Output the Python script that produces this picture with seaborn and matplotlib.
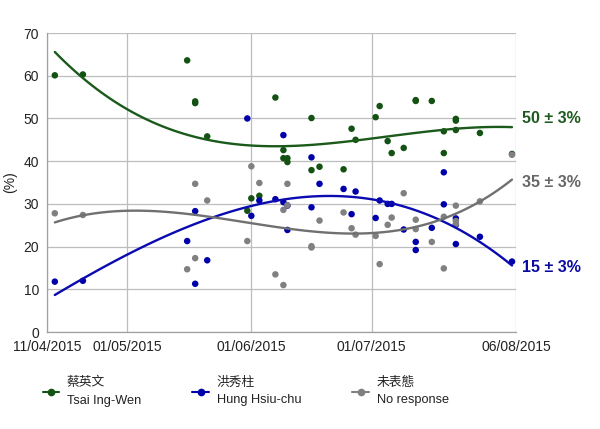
import matplotlib
matplotlib.use("Agg")
import matplotlib.pyplot as plt
import matplotlib.dates as mdates
from matplotlib.lines import Line2D
import matplotlib.transforms as mtransforms
import seaborn as sns
import pandas as pd
import numpy as np

# ---- data ----
poll_dates = ["2015-04-13", "2015-04-20", "2015-05-16", "2015-05-18", "2015-05-18",
              "2015-05-21", "2015-05-31", "2015-06-01", "2015-06-03", "2015-06-07",
              "2015-06-09", "2015-06-09", "2015-06-10", "2015-06-10", "2015-06-16",
              "2015-06-16", "2015-06-18", "2015-06-24", "2015-06-26", "2015-06-27",
              "2015-07-02", "2015-07-03", "2015-07-05", "2015-07-06", "2015-07-09",
              "2015-07-12", "2015-07-12", "2015-07-16", "2015-07-19", "2015-07-19",
              "2015-07-22", "2015-07-22", "2015-07-22", "2015-07-28", "2015-08-05"]
tsai = [60.1, 60.3, 63.6, 53.6, 54.0, 45.8, 28.4, 31.3, 31.9, 54.9,
        42.6, 40.7, 40.7, 39.8, 50.1, 37.9, 38.7, 38.1, 47.6, 45.0,
        50.3, 52.9, 44.7, 41.9, 43.1, 54.1, 54.3, 54.1, 47.0, 41.9,
        49.9, 49.5, 47.3, 46.6, 41.7]
hung = [11.8, 12.0, 21.3, 11.3, 28.3, 16.8, 50.0, 27.2, 30.8, 31.1,
        46.1, 30.4, 29.6, 23.9, 29.2, 40.9, 34.7, 33.5, 27.6, 32.9,
        26.7, 30.8, 30.0, 30.0, 24.0, 19.2, 21.1, 24.4, 37.4, 29.9,
        20.6, 25.1, 26.6, 22.3, 16.5]
none_resp = [27.8, 27.4, 14.7, 34.7, 17.3, 30.8, 21.3, 38.8, 34.9, 13.5,
             11.0, 28.6, 29.7, 34.7, 20.1, 19.8, 26.1, 28.0, 24.3, 22.8,
             22.5, 15.9, 25.1, 26.8, 32.5, 26.3, 24.1, 21.1, 14.9, 27.0,
             29.6, 25.3, 26.0, 30.6, 41.5]

series_names = ["蔡英文\nTsai Ing-Wen", "洪秀柱\nHung Hsiu-chu", "未表態\nNo response"]
end_labels = ["50 ± 3%", "15 ± 3%", "35 ± 3%"]
end_values = [50, 15, 35]
x_tick_dates = ["2015-04-11", "2015-05-01", "2015-06-01", "2015-07-01", "2015-08-06"]
x_tick_labels = ["11/04/2015", "01/05/2015", "01/06/2015", "01/07/2015", "06/08/2015"]
y_ticks = [0, 10, 20, 30, 40, 50, 60, 70]

point_colors = ["#145214", "#0000aa", "#808080"]
line_colors = ["#1a5a1a", "#0a0ab0", "#707070"]
label_colors = ["#1e5a1e", "#0a0aa0", "#666666"]

# ---- plotting ----
sns.set_theme(style="white")
plt.rcParams["font.family"] = ["Liberation Sans", "Noto Sans CJK TC", "DejaVu Sans"]

fig = plt.figure(figsize=(6.0, 4.29), dpi=100)
ax = fig.add_axes([0.078, 0.226, 0.782, 0.697])

xnum = mdates.date2num(pd.to_datetime(poll_dates))
for vals, pc, lc in zip([tsai, hung, none_resp], point_colors, line_colors):
    df = pd.DataFrame({"x": xnum, "y": vals})
    sns.regplot(data=df, x="x", y="y", order=3, ci=None, ax=ax, truncate=True,
                scatter_kws=dict(s=22, color=pc, edgecolor="none", zorder=3, alpha=1),
                line_kws=dict(color=lc, lw=1.7, zorder=4))

xt = mdates.date2num(pd.to_datetime(x_tick_dates))
ax.set_xlim(xt[0], xt[-1])
ax.set_ylim(0, 70)
ax.set_xticks(xt)
ax.set_xticklabels(x_tick_labels, fontsize=10, color="#222222")
ax.set_yticks(y_ticks)
ax.set_yticklabels([str(v) for v in y_ticks], fontsize=10, color="#222222")
ax.set_xlabel("")
ax.set_ylabel("(%)", fontsize=10, color="#222222")
ax.yaxis.set_label_coords(-0.064, 0.5)
ax.grid(True, color="#bdbdbd", lw=0.9)
ax.set_axisbelow(True)
for s in ["top", "right"]:
    ax.spines[s].set_visible(False)
for s in ["left", "bottom"]:
    ax.spines[s].set_color("#a0a0a0")
    ax.spines[s].set_linewidth(0.9)
ax.tick_params(axis="y", length=4.5, width=0.8, color="#a0a0a0", pad=1)
ax.tick_params(axis="x", length=4, width=0.8, color="#a0a0a0", pad=2)

trans = mtransforms.blended_transform_factory(ax.transAxes, ax.transData)
for lab, val, c in zip(end_labels, end_values, label_colors):
    ax.text(1.013, val, lab, transform=trans, color=c, fontsize=11.5,
            fontweight="bold", va="center", ha="left", clip_on=False)

handles = [Line2D([0], [0], color=c, lw=1.5, marker="o", markersize=4.5)
           for c in point_colors]
leg = fig.legend(handles, series_names, loc="center left", bbox_to_anchor=(0.052, 0.087),
                 ncol=3, frameon=False, fontsize=9.2, handlelength=1.3,
                 columnspacing=4.0, handletextpad=0.6)
for t in leg.get_texts():
    t.set_linespacing(1.6)
    t.set_color("#222222")

fig.savefig("out.png", dpi=100)
